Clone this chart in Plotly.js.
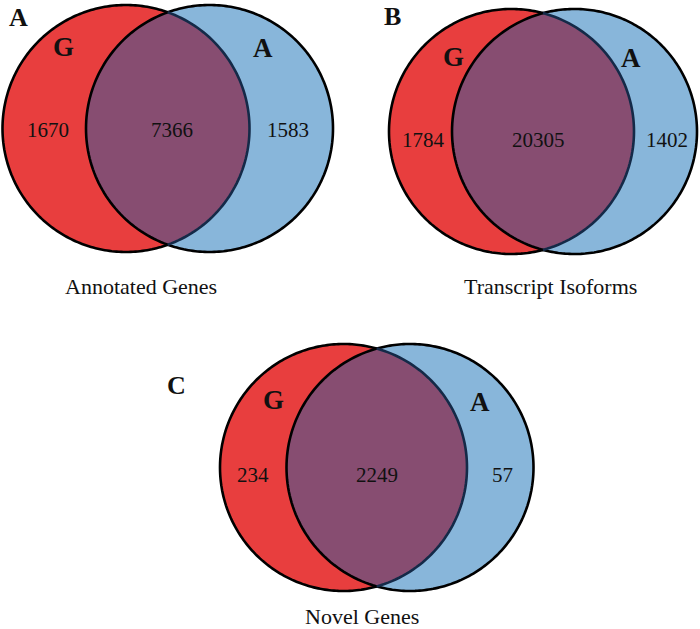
<!DOCTYPE html>
<html><head><meta charset="utf-8">
<script src="https://cdn.plot.ly/plotly-3.0.1.min.js"></script>
<style>html,body{margin:0;padding:0;background:#fff}#chart{width:700px;height:629px}</style>
</head><body><div id="chart"></div>
<script>
// ---- data ----
const panelLetters = ['A', 'B', 'C'];
const panelTitles = ['Annotated Genes', 'Transcript Isoforms', 'Novel Genes'];
const setNames = ['G', 'A'];
const onlyG = [1670, 1784, 234];
const shared = [7366, 20305, 2249];
const onlyA = [1583, 1402, 57];

// ---- layout geometry (pixel space) ----
const geom = [
  {rc:[126,128.5], bc:[209.5,128.5], r:123.5, letter:[18,17], title:[141,286], gl:[63,47], al:[263,48], ny:130, nx:[48,172,288]},
  {rc:[511.5,131.5], bc:[574.5,131.5], r:122.5, letter:[392,16], title:[550,286], gl:[453,57], al:[631,58], ny:140, nx:[423,538,667]},
  {rc:[343.5,467.5], bc:[410,467.5], r:123.5, letter:[176,385], title:[362,616], gl:[273,400], al:[480,402], ny:475, nx:[253,377,502]}
];
const RED = '#E83E3E', BLUE = '#88B6DA', MIX = '#874D71';
const FONT = 'Liberation Serif, Times New Roman, serif';

function arcPts(cx, cy, r, a0, a1, n) {
  const p = [];
  for (let i = 0; i <= n; i++) {
    const a = a0 + (a1 - a0) * i / n;
    p.push([cx + r * Math.cos(a), cy + r * Math.sin(a)]);
  }
  return p;
}
function toPath(pts, close) {
  return pts.map((p, i) => (i ? 'L' : 'M') + p[0].toFixed(2) + ',' + p[1].toFixed(2)).join(' ') + (close ? ' Z' : '');
}

const shapes = [], annotations = [];
const ann = (x, y, text, size, bold) => annotations.push({
  x, y, xref:'x', yref:'y', text: bold ? '<b>' + text + '</b>' : text, showarrow:false,
  font:{family:FONT, size, color:'#111'}, xanchor:'center', yanchor:'middle'
});

geom.forEach((g, i) => {
  const [rx, ry] = g.rc, [bx, by] = g.bc, r = g.r;
  const half = (bx - rx) / 2;
  const ang = Math.acos(half / r);
  shapes.push({type:'circle', xref:'x', yref:'y', x0:rx-r, x1:rx+r, y0:ry-r, y1:ry+r, fillcolor:RED, line:{width:0}, layer:'above'});
  shapes.push({type:'circle', xref:'x', yref:'y', x0:bx-r, x1:bx+r, y0:by-r, y1:by+r, fillcolor:BLUE, line:{width:0}, layer:'above'});
  const redArc = arcPts(rx, ry, r, -ang, ang, 80);
  const blueArc = arcPts(bx, by, r, Math.PI - ang, Math.PI + ang, 80);
  shapes.push({type:'path', xref:'x', yref:'y', path: toPath(redArc.concat(blueArc), true), fillcolor:MIX, line:{width:0}, layer:'above'});
  const redOuter = arcPts(rx, ry, r, ang, 2*Math.PI - ang, 200);
  const blueOuter = arcPts(bx, by, r, -Math.PI + ang, Math.PI - ang, 200);
  shapes.push({type:'path', xref:'x', yref:'y', path: toPath(redOuter, false), line:{color:'#000', width:2.6}, layer:'above'});
  shapes.push({type:'path', xref:'x', yref:'y', path: toPath(blueOuter, false), line:{color:'#000', width:2.6}, layer:'above'});
  shapes.push({type:'path', xref:'x', yref:'y', path: toPath(blueArc, false), line:{color:'#000', width:2.6}, layer:'above'});
  shapes.push({type:'path', xref:'x', yref:'y', path: toPath(redArc, false), line:{color:'#142a48', width:2.6}, layer:'above'});

  ann(g.letter[0], g.letter[1], panelLetters[i], 26, true);
  ann(g.gl[0], g.gl[1], setNames[0], 27, true);
  ann(g.al[0], g.al[1], setNames[1], 27, true);
  ann(g.nx[0], g.ny, String(onlyG[i]), 21, false);
  ann(g.nx[1], g.ny, String(shared[i]), 21, false);
  ann(g.nx[2], g.ny, String(onlyA[i]), 21, false);
  ann(g.title[0], g.title[1], panelTitles[i], 22, false);
});

const layout = {
  width: 700, height: 629,
  margin: {l:0, r:0, t:0, b:0},
  paper_bgcolor: '#fff', plot_bgcolor: '#fff',
  showlegend: false,
  xaxis: {range:[0,700], visible:false, fixedrange:true},
  yaxis: {range:[629,0], visible:false, fixedrange:true},
  shapes, annotations
};
Plotly.newPlot('chart', [{x:[0], y:[0], mode:'markers', marker:{opacity:0}, hoverinfo:'skip'}], layout, {staticPlot:true});
</script>
</body></html>
